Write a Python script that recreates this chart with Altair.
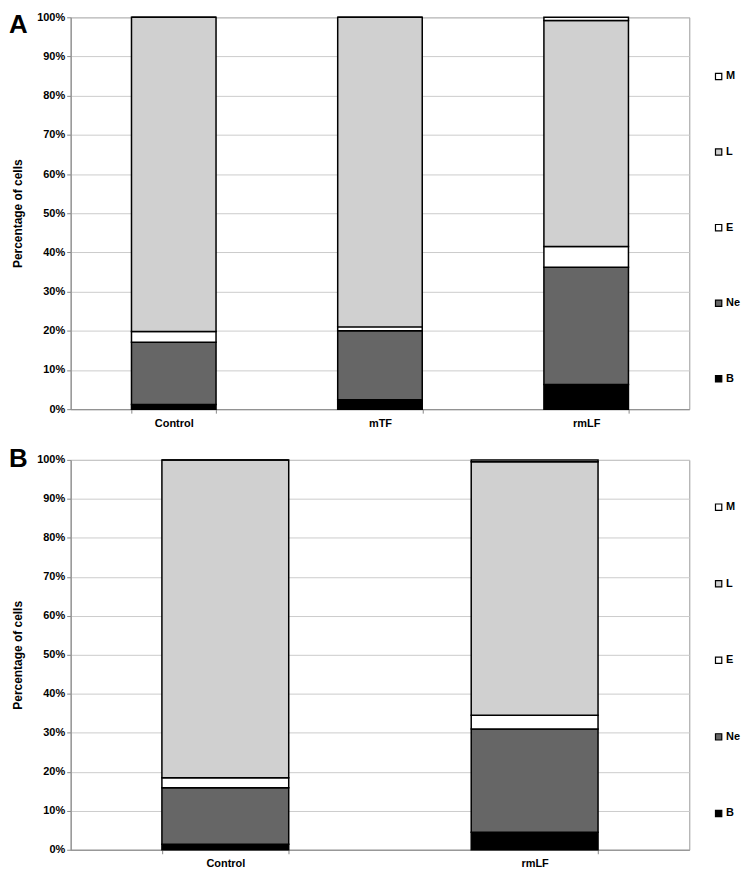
import altair as alt
import pandas as pd

FONT = "Liberation Sans"

segments = ["B", "Ne", "E", "L", "M"]          # bottom -> top stacking order
legend_order = ["M", "L", "E", "Ne", "B"]      # legend top -> bottom
seg_colors = ["#ffffff", "#d0d0d0", "#ffffff", "#666666", "#000000"]  # matches legend_order

panel_letters = ["A", "B"]

# Panel A
cats_A = ["Control", "mTF", "rmLF"]
B_A = [1.2, 2.4, 6.3]
Ne_A = [15.9, 17.6, 29.9]
E_A = [2.7, 1.0, 5.3]
L_A = [80.2, 79.0, 57.7]
M_A = [0.0, 0.0, 0.8]

# Panel B
cats_B = ["Control", "rmLF"]
B_B = [1.4, 4.5]
Ne_B = [14.5, 26.5]
E_B = [2.6, 3.5]
L_B = [81.5, 65.0]
M_B = [0.0, 0.5]

y_ticks = list(range(0, 101, 10))


def make_df(cats, series):
    rows = []
    for i, c in enumerate(cats):
        for k, (seg, vals) in enumerate(zip(segments, series)):
            rows.append({"cat": c, "seg": seg, "ord": k, "val": vals[i]})
    return pd.DataFrame(rows)


def panel(cats, series, letter, w, h, letter_y, leg_y, leg_pad):
    df = make_df(cats, series)
    bars = alt.Chart(df).mark_bar(stroke="black", strokeWidth=1.5).encode(
        x=alt.X("cat:N", sort=cats,
                scale=alt.Scale(paddingInner=0.59, paddingOuter=0.295),
                axis=alt.Axis(title=None, labelAngle=0, tickBand="extent",
                              tickSize=4, labelPadding=4, domainColor="#888888",
                              tickColor="#888888", grid=False,
                              labelFont=FONT, labelFontWeight="bold",
                              labelFontSize=11, labelColor="black")),
        y=alt.Y("val:Q", stack="zero",
                scale=alt.Scale(domain=[0, 100], nice=False),
                axis=alt.Axis(title="Percentage of cells", values=y_ticks,
                              labelExpr="datum.value + '%'", tickSize=4,
                              labelPadding=2, titlePadding=12,
                              gridColor="#cccccc", domainColor="#888888",
                              tickColor="#888888",
                              labelFont=FONT, labelFontWeight="bold",
                              labelFontSize=11, labelColor="black",
                              titleFont=FONT, titleFontWeight="bold",
                              titleFontSize=12, titleColor="black")),
        color=alt.Color("seg:N",
                        scale=alt.Scale(domain=legend_order, range=seg_colors),
                        legend=alt.Legend(title=None, orient="none",
                                          legendX=646, legendY=leg_y,
                                          rowPadding=leg_pad, symbolType="square",
                                          symbolSize=40, symbolStrokeColor="black",
                                          symbolStrokeWidth=1.2,
                                          labelFont=FONT, labelFontWeight="bold",
                                          labelFontSize=11, labelColor="black",
                                          labelOffset=2)),
        order=alt.Order("ord:Q", sort="ascending"),
    )
    lab = alt.Chart(pd.DataFrame({"t": [letter]})).mark_text(
        font=FONT, fontWeight="bold", fontSize=26, align="left",
        baseline="top", color="black"
    ).encode(x=alt.value(-62), y=alt.value(letter_y), text="t:N")
    return alt.layer(bars, lab).properties(width=w, height=h)


pA = panel(cats_A, [B_A, Ne_A, E_A, L_A, M_A], panel_letters[0], 622, 394, -5, 54, 63)
pB = panel(cats_B, [B_B, Ne_B, E_B, L_B, M_B], panel_letters[1], 622, 392, -14, 42, 64)

chart = alt.vconcat(pA, pB, spacing=16).resolve_legend(
    color="independent"
).resolve_scale(x="independent").properties(
    padding=0, background="white"
).configure_view(
    stroke="#999999", strokeWidth=1
)

chart.save("out.html", embed_options={"renderer": "svg", "actions": False})
